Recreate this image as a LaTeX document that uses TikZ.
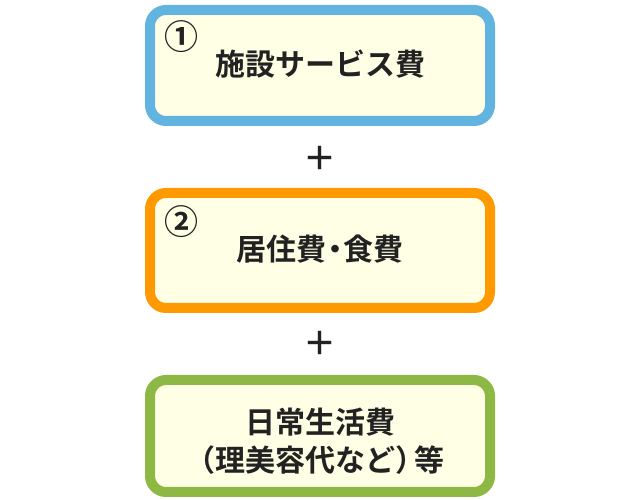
\documentclass[tikz,border=0pt]{standalone}
\usepackage{fontspec}
\newfontfamily\cjk{Noto Sans CJK JP}[BoldFont={Noto Sans CJK JP Bold}]
\definecolor{fillc}{HTML}{FFFFE6}
\definecolor{bluec}{HTML}{62B4E0}
\definecolor{orangec}{HTML}{FF9900}
\definecolor{greenc}{HTML}{8DB843}
\definecolor{txt}{HTML}{222222}
\begin{document}
\begin{tikzpicture}[x=1pt,y=1pt,
  box/.style={draw, line width=10pt, fill=fillc, rounded corners=16pt},
  main/.style={font=\cjk\bfseries\fontsize{30}{38}\selectfont, text=txt, align=center},
  num/.style={font=\cjk\bfseries\fontsize{34}{36}\selectfont, text=txt},
  plus/.style={font=\cjk\bfseries\fontsize{33}{33}\selectfont, text=txt}]
\useasboundingbox (0,0) rectangle (640,500);
\draw[box, draw=bluec] (150,490) rectangle (490,379);
\draw[box, draw=orangec] (150,307) rectangle (490,192);
\draw[box, draw=greenc] (150,120) rectangle (490,8);
\node[num] (n1) at (181,463) {①};
\node[main] (t1) at (320,436) {施設サービス費};
\node[plus] (p1) at (320,342) {＋};
\node[num] (n2) at (181,278) {②};
\node[main] (t2) at (320,251) {居住費\kern-0.22em・\kern-0.22em食費};
\node[plus] (p2) at (320,157) {＋};
\node[main] (t3) at (320,59) {日常生活費\\\kern-0.35em（理美容代など）\kern-0.35em等};
\end{tikzpicture}
\end{document}
